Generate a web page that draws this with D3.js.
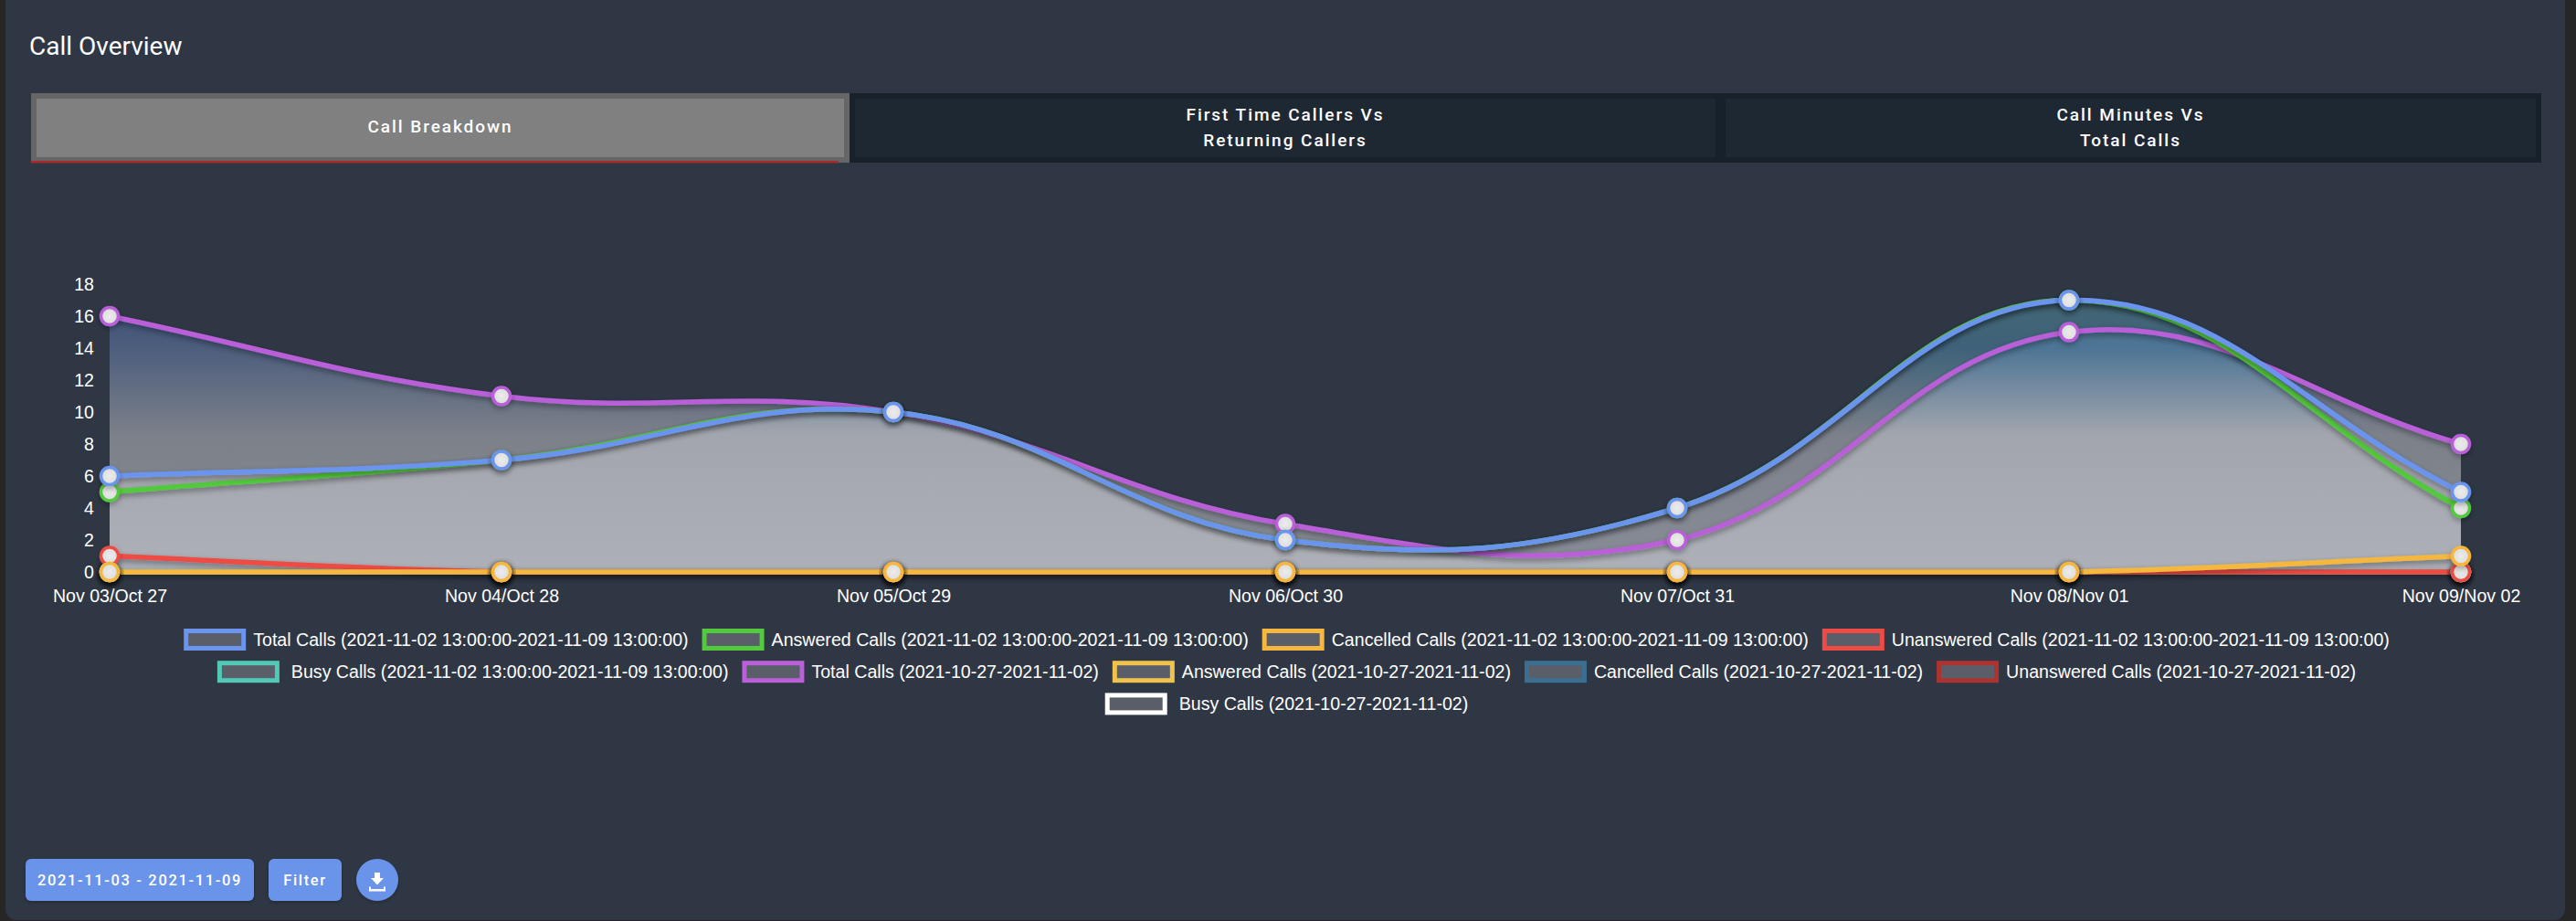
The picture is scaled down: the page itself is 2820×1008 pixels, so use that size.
<!DOCTYPE html>
<html><head><meta charset="utf-8">
<script src="https://cdn.jsdelivr.net/npm/d3@7/dist/d3.min.js"></script>
<style>
html,body{margin:0;padding:0;background:#262626;overflow:hidden}
svg{display:block}
text{fill:#fff}
.tab{font:500 19px Roboto;letter-spacing:1.95px;text-anchor:middle}
.btn{font:500 16.5px Roboto;letter-spacing:1.65px;text-anchor:middle}
.axis text{font:19.6px "Liberation Sans";fill:#fff}
.lg{font:19.6px "Liberation Sans";fill:#fff}
</style></head><body>
<svg id="c" width="2820" height="1008"></svg>
<script>
const title = "Call Overview";
const categories = ["Nov 03/Oct 27","Nov 04/Oct 28","Nov 05/Oct 29","Nov 06/Oct 30","Nov 07/Oct 31","Nov 08/Nov 01","Nov 09/Nov 02"];
const yTicks = [0,2,4,6,8,10,12,14,16,18];
const curTotal      = [6,7,10,2,4,17,5];
const curAnswered   = [5,7,10,2,4,17,4];
const curCancelled  = [0,0,0,0,0,0,1];
const curUnanswered = [1,0,0,0,0,0,0];
const curBusy       = [0,0,0,0,0,0,0];
const prevTotal     = [16,11,10,3,2,15,8];
const prevAnswered  = [0,0,0,0,0,0,0];
const prevCancelled = [0,0,0,0,0,0,0];
const prevUnanswered= [0,0,0,0,0,0,0];
const prevBusy      = [0,0,0,0,0,0,0];
const curRange = "(2021-11-02 13:00:00-2021-11-09 13:00:00)";
const prevRange = "(2021-10-27-2021-11-02)";
const seriesNames = ["Total Calls","Answered Calls","Cancelled Calls","Unanswered Calls","Busy Calls"];
const seriesColors = ["#6a94ee","#53c93e","#f5b73e","#ee4b44","#52c9b5","#b95fd8","#efc34c","#3a6f92","#ad3330","#ffffff"];
const seriesValues = [curTotal,curAnswered,curCancelled,curUnanswered,curBusy,prevTotal,prevAnswered,prevCancelled,prevUnanswered,prevBusy];
const seriesLabels = [...seriesNames.map(n=>n+" "+curRange),...seriesNames.map(n=>n+" "+prevRange)];
const legendRows = [[0,1,2,3],[4,5,6,7,8],[9]];
const tabs = [["Call Breakdown"],["First Time Callers Vs","Returning Callers"],["Call Minutes Vs","Total Calls"]];
const dateLabel = "2021-11-03 - 2021-11-09", filterLabel = "Filter";

const svg = d3.select("#c");
const defs = svg.append("defs");
const sh = defs.append("filter").attr("id","sh").attr("x","-30%").attr("y","-30%").attr("width","160%").attr("height","180%");
sh.append("feDropShadow").attr("dx",0).attr("dy",3).attr("stdDeviation",3).attr("flood-color","#000").attr("flood-opacity",.3);
const shB = defs.append("filter").attr("id","shB").attr("x","-10%").attr("y","-10%").attr("width","120%").attr("height","130%");
shB.append("feDropShadow").attr("dx",0).attr("dy",2).attr("stdDeviation",2).attr("flood-color","#000").attr("flood-opacity",.22);
const shU = defs.append("filter").attr("id","shU").attr("filterUnits","userSpaceOnUse").attr("x",0).attr("y",0).attr("width",2820).attr("height",1008);
shU.append("feDropShadow").attr("dx",0).attr("dy",3).attr("stdDeviation",3).attr("flood-color","#000").attr("flood-opacity",.4);
const rg = defs.append("radialGradient").attr("id","pt");
rg.append("stop").attr("offset","0%").attr("stop-color","#ececec");
rg.append("stop").attr("offset","100%").attr("stop-color","#dcdcdc");

// card
svg.append("rect").attr("x",6).attr("y",-12).attr("width",2802).attr("height",1019).attr("rx",12).attr("fill","#2f3745");
svg.append("text").attr("x",32).attr("y",60).style("font","400 28px Roboto").text(title);

// tabs
const tabBox = [[34,930,40,924],[930,1884,936,1878],[1884,2782,1889,2776]];
tabs.forEach((t,i)=>{
  const b = tabBox[i], on = i===0;
  svg.append("rect").attr("x",b[0]).attr("y",102).attr("width",b[1]-b[0]).attr("height",76).attr("fill",on?"#666666":"#18212a");
  svg.append("rect").attr("x",b[2]).attr("y",108).attr("width",b[3]-b[2]).attr("height",64).attr("fill",on?"#808080":"#1e2832");
  if(on) svg.append("rect").attr("x",34).attr("y",176).attr("width",884).attr("height",2.5).attr("fill","#a82a2a");
  const cx=(b[2]+b[3])/2;
  if(t.length===1) svg.append("text").attr("class","tab").attr("x",cx).attr("y",145).text(t[0]);
  else t.forEach((s,k)=>svg.append("text").attr("class","tab").attr("x",cx).attr("y",132+k*28).text(s));
});

// scales
const x = d3.scalePoint().domain(categories).range([120,2694]);
const y = d3.scaleLinear().domain([0,18]).range([626,311]);

// axes
const gy = svg.append("g").attr("class","axis").attr("transform","translate(120,0)")
  .call(d3.axisLeft(y).tickValues(yTicks).tickSize(0).tickPadding(17));
const gx = svg.append("g").attr("class","axis").attr("transform","translate(0,626)")
  .call(d3.axisBottom(x).tickSize(0).tickPadding(19));
svg.selectAll(".axis .domain").remove();
gx.selectAll("text").attr("dy","0.71em");

// Chart.js-style bezier (tension 0.4, capped to chart area)
function ChartSpline(ctx){this.c=ctx;}
ChartSpline.prototype={
  areaStart(){},areaEnd(){},
  lineStart(){this.p=[];},
  point(a,b){this.p.push([+a,+b]);},
  lineEnd(){
    const P=this.p,t=0.4,n=P.length,cp=[];
    const [yB,yT]=y.range();
    const cap=v=>Math.max(yT,Math.min(yB,v));
    for(let i=0;i<n;i++){
      const c=P[i],a=P[Math.max(i-1,0)],b=P[Math.min(i+1,n-1)];
      const d1=Math.hypot(c[0]-a[0],c[1]-a[1]),d2=Math.hypot(b[0]-c[0],b[1]-c[1]);
      const s=d1+d2||1,fa=t*d1/s,fb=t*d2/s;
      cp.push({px:c[0]-fa*(b[0]-a[0]),py:cap(c[1]-fa*(b[1]-a[1])),nx:c[0]+fb*(b[0]-a[0]),ny:cap(c[1]+fb*(b[1]-a[1]))});
    }
    this.c.moveTo(P[0][0],P[0][1]);
    for(let i=1;i<n;i++) this.c.bezierCurveTo(cp[i-1].nx,cp[i-1].ny,cp[i].px,cp[i].py,P[i][0],P[i][1]);
  }
};
const spline = ctx=>new ChartSpline(ctx);
const line = d3.line().x((d,i)=>x(categories[i])).y(d=>y(d)).curve(spline);
const areaPath = vals => line(vals)+`L${x(categories[categories.length-1])},${y(0)}L${x(categories[0])},${y(0)}Z`;

function grad(id,stops){
  const g=defs.append("linearGradient").attr("id",id).attr("gradientUnits","userSpaceOnUse")
    .attr("x1",0).attr("x2",0).attr("y1",y(18)).attr("y2",y(0));
  stops.forEach(s=>g.append("stop").attr("offset",(18-s[0])/18).attr("stop-color",s[1]).attr("stop-opacity",s[2]));
}
grad("fPrev",[[18,"#3f62ae",.5],[14,"#6a84b4",.5],[8.6,"#c8cace",.5],[0,"#c8cace",.58]]);
grad("fCur",[[18,"#5a98a0",.5],[14,"#4e8cae",.5],[8.6,"#c8cad0",.5],[0,"#c8cad0",.58]]);

// areas (only the two total series show a fill)
svg.append("path").attr("d",areaPath(prevTotal)).attr("fill","url(#fPrev)");
svg.append("path").attr("d",areaPath(curTotal)).attr("fill","url(#fCur)");

// draw in reverse so first dataset is on top
const order = d3.range(seriesValues.length).reverse();
const linesG = svg.append("g");
order.forEach(k=>{
  const p = linesG.append("path").attr("d",line(seriesValues[k])).attr("fill","none")
    .attr("stroke",seriesColors[k]).attr("stroke-width",5.5);
  if(d3.max(seriesValues[k])>0) p.attr("filter","url(#shU)");
});
order.forEach(k=>{
  linesG.append("g").selectAll("circle").data(seriesValues[k]).join("circle")
    .attr("cx",(d,i)=>x(categories[i])).attr("cy",d=>y(d)).attr("r",9.5)
    .attr("fill","url(#pt)").attr("stroke",seriesColors[k]).attr("stroke-width",3.5)
    .attr("filter","url(#sh)");
});

// legend
legendRows.forEach((row,r)=>{
  const g = svg.append("g");
  let cur = 0;
  row.forEach(k=>{
    const it = g.append("g").attr("transform",`translate(${cur},0)`);
    it.append("rect").attr("x",2.5).attr("y",-9.5).attr("width",63).attr("height",19)
      .attr("fill","#5a5e69").attr("stroke",seriesColors[k]).attr("stroke-width",5);
    const gap = seriesLabels[k].startsWith("Busy")?13:8;
    const t = it.append("text").attr("class","lg").attr("x",68+gap).attr("y",7).text(seriesLabels[k]);
    cur += 68+gap+t.node().getComputedTextLength()+15;
  });
  const w = cur-15;
  g.attr("transform",`translate(${1408.5-w/2},${700+r*35.2})`);
});

// buttons
const blue="#6a94ea";
[[28,250,dateLabel],[294,80,filterLabel]].forEach(b=>{
  svg.append("rect").attr("x",b[0]).attr("y",940).attr("width",b[1]).attr("height",46).attr("rx",6).attr("fill",blue).attr("filter","url(#shB)");
  svg.append("text").attr("class","btn").attr("x",b[0]+b[1]/2).attr("y",968.5).text(b[2]);
});
svg.append("circle").attr("cx",413).attr("cy",963).attr("r",23).attr("fill",blue).attr("filter","url(#shB)");
svg.append("path").attr("fill","#fff")
  .attr("d","M410 955h6v6h4l-7 7.5-7-7.5h4z M406 970.5v2h0v0.5h14v-2.5h2v5h-18v-5z");
</script>
</body></html>
